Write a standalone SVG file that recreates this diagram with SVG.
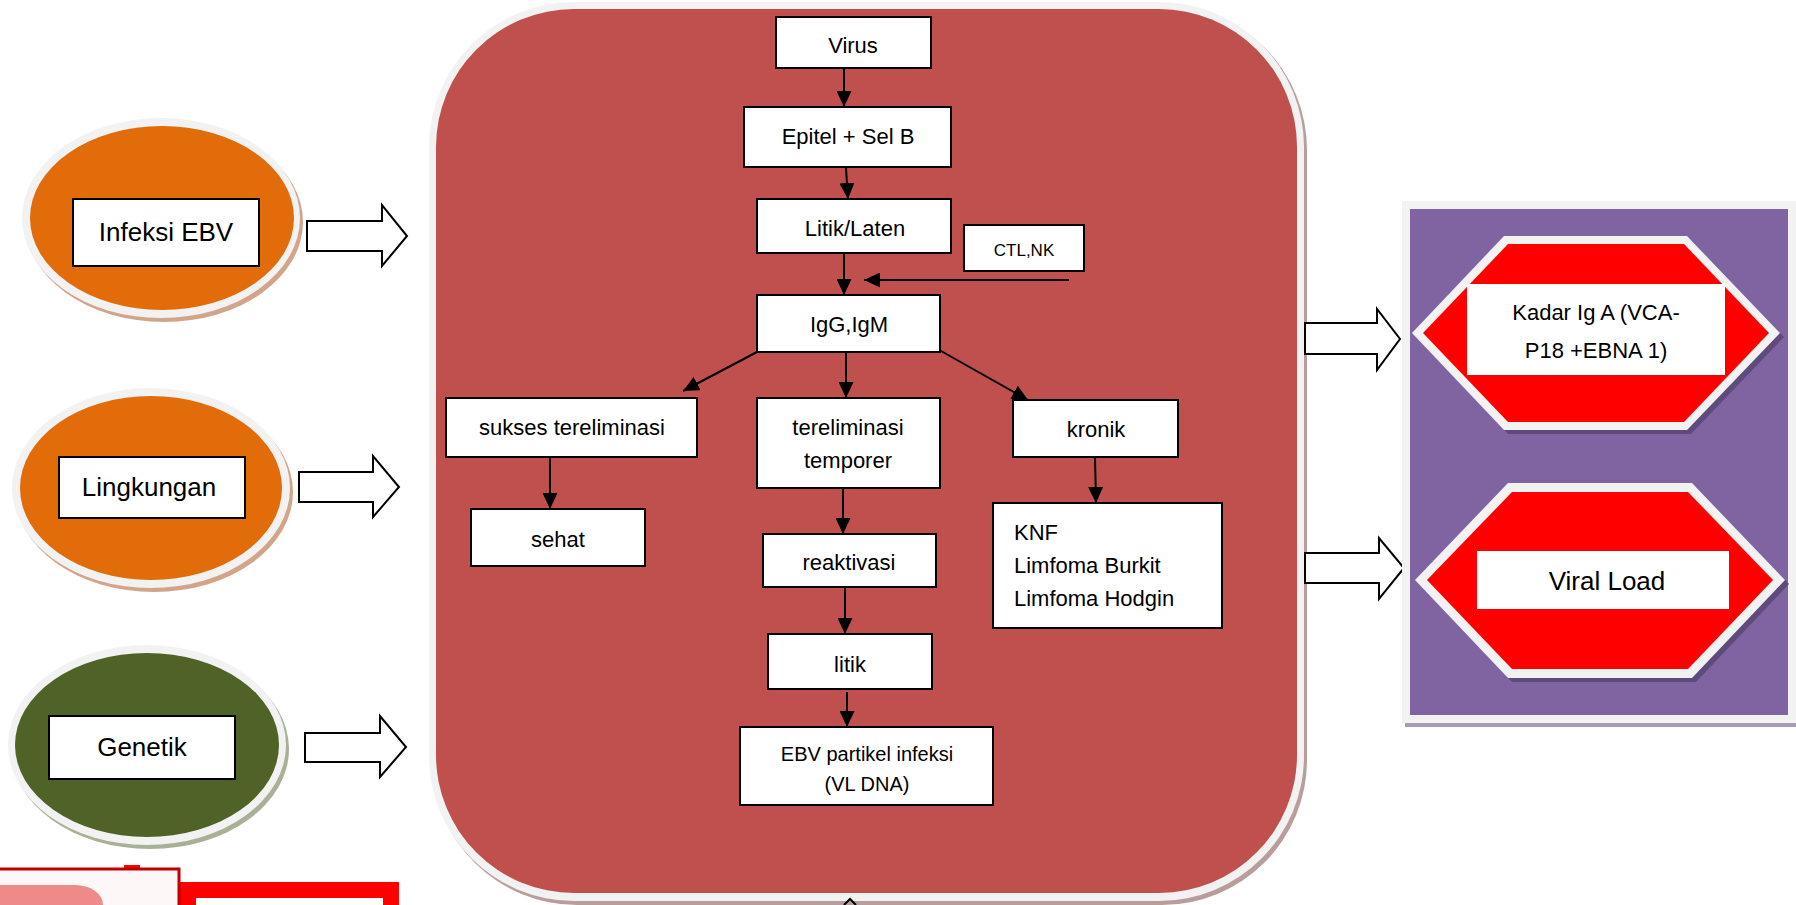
<svg xmlns="http://www.w3.org/2000/svg" width="1796" height="905" viewBox="0 0 1796 905">
<defs>
<marker id="ah" markerUnits="userSpaceOnUse" markerWidth="16" markerHeight="15" refX="16" refY="7.5" orient="auto">
<path d="M0,0 L16,7.5 L0,15 z" fill="#000"/>
</marker>
</defs>
<style>
text{font-family:"Liberation Sans",Arial,sans-serif;fill:#000}
.box{fill:#fff;stroke:#000;stroke-width:2}
.t22{font-size:22px}
.t26{font-size:26px}
.c{text-anchor:middle}
.conn line{stroke:#000;stroke-width:2;marker-end:url(#ah)}
.barrow{fill:#fff;stroke:#000;stroke-width:2;stroke-linejoin:miter}
.ring{fill:#f2f2f2}
</style>
<rect width="1796" height="905" fill="#fff"/>

<!-- Left ellipses -->
<g id="infeksi">
<ellipse cx="164" cy="222" rx="139" ry="100" fill="#d3a487"/>
<ellipse cx="161" cy="218" rx="139" ry="100" class="ring"/>
<ellipse cx="162" cy="218" rx="132" ry="92" fill="#e36c0a"/>
<rect x="73" y="199" width="186" height="67" class="box"/>
<text x="166" y="241" class="t26 c">Infeksi EBV</text>
</g>
<g id="lingkungan">
<ellipse cx="154" cy="492" rx="139" ry="100" fill="#d3a487"/>
<ellipse cx="151" cy="488" rx="139" ry="100" class="ring"/>
<ellipse cx="151" cy="488" rx="131" ry="92" fill="#e36c0a"/>
<rect x="59" y="457" width="186" height="61" class="box"/>
<text x="149" y="496" class="t26 c">Lingkungan</text>
</g>
<g id="genetik">
<ellipse cx="150" cy="749" rx="139" ry="100" fill="#a9b095"/>
<ellipse cx="147" cy="745" rx="139" ry="100" class="ring"/>
<ellipse cx="147" cy="745" rx="132" ry="92" fill="#4f6228"/>
<rect x="49" y="716" width="186" height="63" class="box"/>
<text x="142" y="756" class="t26 c">Genetik</text>
</g>

<!-- Big red panel -->
<g id="panel">
<rect x="432" y="5" width="875" height="900" rx="145" fill="#b99c9c"/>
<rect x="429" y="2" width="875" height="899" rx="145" fill="#f2f2f2"/>
<rect x="436" y="9" width="861" height="884" rx="138" fill="#c0504d"/>
</g>

<!-- Block arrows -->
<g id="block-arrows">
<polygon class="barrow" points="307,221 382,221 382,205 407,236 382,266 382,251 307,251"/>
<polygon class="barrow" points="299,472 373,472 373,456 399,487 373,517 373,502 299,502"/>
<polygon class="barrow" points="305,733 380,733 380,716 406,747 380,777 380,762 305,762"/>
<polygon class="barrow" points="1305,323 1377,323 1377,309 1400,339 1377,370 1377,354 1305,354"/>
<polygon class="barrow" points="1305,553 1379,553 1379,538 1404,568 1379,599 1379,583 1305,583"/>
</g>

<!-- Nodes in panel -->
<g id="virus"><rect x="776" y="17" width="155" height="51" class="box"/><text x="853" y="53" class="t22 c">Virus</text></g>
<g id="epitel"><rect x="744" y="107" width="207" height="60" class="box"/><text x="848" y="144" class="t22 c">Epitel + Sel B</text></g>
<g id="litiklaten"><rect x="757" y="199" width="194" height="54" class="box"/><text x="855" y="236" class="t22 c">Litik/Laten</text></g>
<g id="ctlnk"><rect x="964" y="225" width="120" height="46" class="box"/><text x="1024" y="256" class="c" font-size="17">CTL,NK</text></g>
<g id="igg"><rect x="757" y="295" width="183" height="57" class="box"/><text x="849" y="332" class="t22 c">IgG,IgM</text></g>
<g id="sukses"><rect x="446" y="398" width="251" height="59" class="box"/><text x="572" y="435" class="t22 c">sukses tereliminasi</text></g>
<g id="temporer"><rect x="757" y="398" width="183" height="90" class="box"/><text x="848" y="435" class="t22 c">tereliminasi</text><text x="848" y="468" class="t22 c">temporer</text></g>
<g id="kronik"><rect x="1013" y="400" width="165" height="57" class="box"/><text x="1096" y="437" class="t22 c">kronik</text></g>
<g id="sehat"><rect x="471" y="509" width="174" height="57" class="box"/><text x="558" y="547" class="t22 c">sehat</text></g>
<g id="reaktivasi"><rect x="763" y="534" width="173" height="53" class="box"/><text x="849" y="570" class="t22 c">reaktivasi</text></g>
<g id="knf"><rect x="993" y="503" width="229" height="125" class="box"/><text x="1014" y="540" class="t22">KNF</text><text x="1014" y="573" class="t22">Limfoma Burkit</text><text x="1014" y="606" class="t22">Limfoma Hodgin</text></g>
<g id="litik"><rect x="768" y="634" width="164" height="55" class="box"/><text x="850" y="672" class="t22 c">litik</text></g>
<g id="ebv"><rect x="740" y="727" width="253" height="78" class="box"/><text x="867" y="761" class="c" font-size="20">EBV partikel infeksi</text><text x="867" y="791" class="c" font-size="20">(VL DNA)</text></g>

<!-- Connectors -->
<g id="connectors" class="conn">
<line x1="844" y1="69" x2="844" y2="107"/>
<line x1="846" y1="168" x2="848" y2="199"/>
<line x1="844" y1="253" x2="844" y2="295"/>
<line x1="1069" y1="280" x2="864" y2="280"/>
<line x1="757" y1="352" x2="683" y2="391"/>
<line x1="846" y1="352" x2="846" y2="398"/>
<line x1="941" y1="351" x2="1028" y2="400"/>
<line x1="550" y1="457" x2="550" y2="509"/>
<line x1="843" y1="489" x2="843" y2="534"/>
<line x1="1095" y1="457" x2="1096" y2="503"/>
<line x1="845" y1="588" x2="845" y2="634"/>
<line x1="847" y1="692" x2="847" y2="727"/>
</g>

<!-- Right purple panel -->
<g id="purple-panel">
<rect x="1405" y="205" width="391" height="522" fill="#a89bb5"/>
<rect x="1402" y="201" width="394" height="522" fill="#f2f2f2"/>
<rect x="1410" y="209" width="378" height="506" fill="#8064a2"/>
</g>
<g id="kadar">
<polygon points="1416,337 1508,240 1691,240 1784,337 1691,434 1508,434" fill="#5f4a7c"/>
<polygon points="1412,333 1504,236 1687,236 1780,333 1687,430 1504,430" fill="#f2f2f2"/>
<polygon points="1423,333 1508,244 1684,244 1769,333 1684,422 1508,422" fill="#ff0000"/>
<rect x="1467" y="284" width="258" height="91" fill="#fff"/>
<text x="1596" y="320" class="t22 c">Kadar Ig A (VCA-</text>
<text x="1596" y="358" class="t22 c">P18 +EBNA 1)</text>
</g>
<g id="viralload">
<polygon points="1419,584 1512,487 1696,487 1789,584 1696,682 1512,682" fill="#5f4a7c"/>
<polygon points="1415,580 1508,483 1692,483 1785,580 1692,678 1508,678" fill="#f2f2f2"/>
<polygon points="1427,580 1512,492 1688,492 1773,580 1688,669 1512,669" fill="#ff0000"/>
<rect x="1477" y="551" width="252" height="58" fill="#fff"/>
<text x="1607" y="590" class="t26 c">Viral Load</text>
</g>

<!-- Partial shapes at bottom edge -->
<g id="bottom-partial">
<rect x="188" y="890" width="203" height="30" fill="#fff" stroke="#ff0000" stroke-width="16"/>
<rect x="124" y="865" width="16" height="6" fill="#ff0000"/>
<rect x="-2" y="869" width="181" height="50" fill="#fdf7f7" stroke="#c00000" stroke-width="3"/>
<rect x="-30" y="885" width="133" height="40" rx="28" fill="#ee8a8a"/>
<path d="M844,905 L850,899 L856,905" fill="none" stroke="#000" stroke-width="2"/>
</g>
</svg>
